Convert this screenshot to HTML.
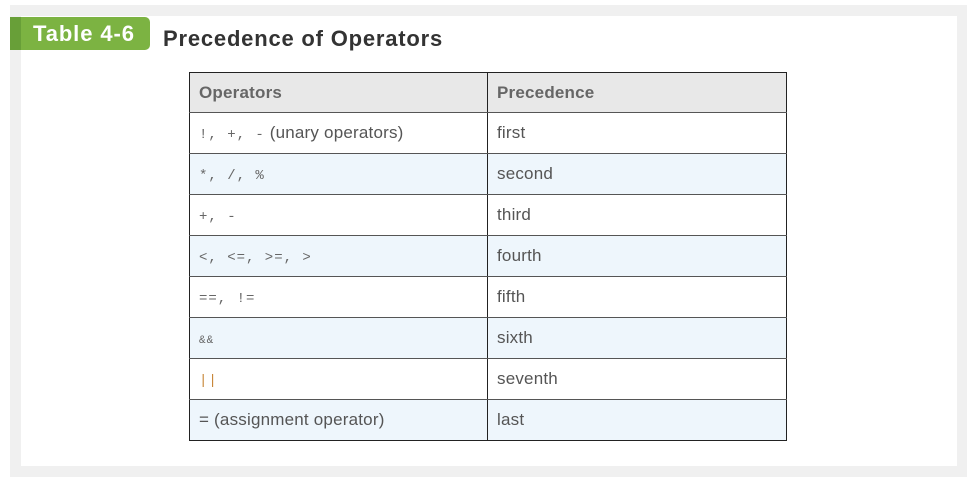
<!DOCTYPE html>
<html><head><style>
body{margin:0;width:977px;height:484px;background:#fff;position:relative;font-family:"Liberation Sans",sans-serif;overflow:hidden}
.outer{position:absolute;left:10px;top:5px;width:957px;height:472px;background:#f0f0f0}
.inner{position:absolute;left:21px;top:16px;width:936px;height:450px;background:#fff}
.badge{position:absolute;left:10px;top:17px;width:140px;height:33px;background:#7cb342;border-radius:0 5px 5px 0}
.badge:before{content:"";position:absolute;left:0;top:0;width:11px;height:33px;background:#689f38}
.badge span{position:absolute;left:23px;top:4px;color:#fff;font-weight:bold;font-size:22px;letter-spacing:0.9px}
.title{position:absolute;left:163px;top:26px;font-weight:bold;font-size:22px;color:#333;letter-spacing:0.8px}
table{position:absolute;left:189px;top:72px;border-collapse:collapse;width:598px}
td,th{border:1px solid #555;height:41px;padding:0 0 0 9px;text-align:left;font-size:17px;color:#555;box-sizing:border-box;letter-spacing:0.2px}
th{background:#e8e8e8;font-weight:bold;color:#666;height:40px}
tr.a td{background:#eef6fc}
td:first-child,th:first-child{width:298px;border-left:1px solid #222}
td:last-child,th:last-child{border-right:1px solid #222}
tr:first-child th{border-top:1px solid #222}
tr:last-child td{border-bottom:1px solid #222}
td:first-child{border-right:1px solid #222}
th:first-child{border-right:1px solid #222}
.m{font-family:"Liberation Mono",monospace;font-size:14px;color:#666;letter-spacing:1px}
.o{color:#c8873a}
</style></head><body>
<div class="outer"></div><div class="inner"></div>
<div class="badge"><span>Table 4-6</span></div>
<div class="title">Precedence of Operators</div>
<table>
<tr><th>Operators</th><th>Precedence</th></tr>
<tr><td><span class="m">!, +, -</span> (unary operators)</td><td>first</td></tr>
<tr class="a"><td><span class="m">*, /, %</span></td><td>second</td></tr>
<tr><td><span class="m">+, -</span></td><td>third</td></tr>
<tr class="a"><td><span class="m">&lt;, &lt;=, &gt;=, &gt;</span></td><td>fourth</td></tr>
<tr><td><span class="m">==, !=</span></td><td>fifth</td></tr>
<tr class="a"><td><span class="m" style="font-size:11px">&amp;&amp;</span></td><td>sixth</td></tr>
<tr><td><span class="m o">||</span></td><td>seventh</td></tr>
<tr class="a"><td>= (assignment operator)</td><td>last</td></tr>
</table>
</body></html>
